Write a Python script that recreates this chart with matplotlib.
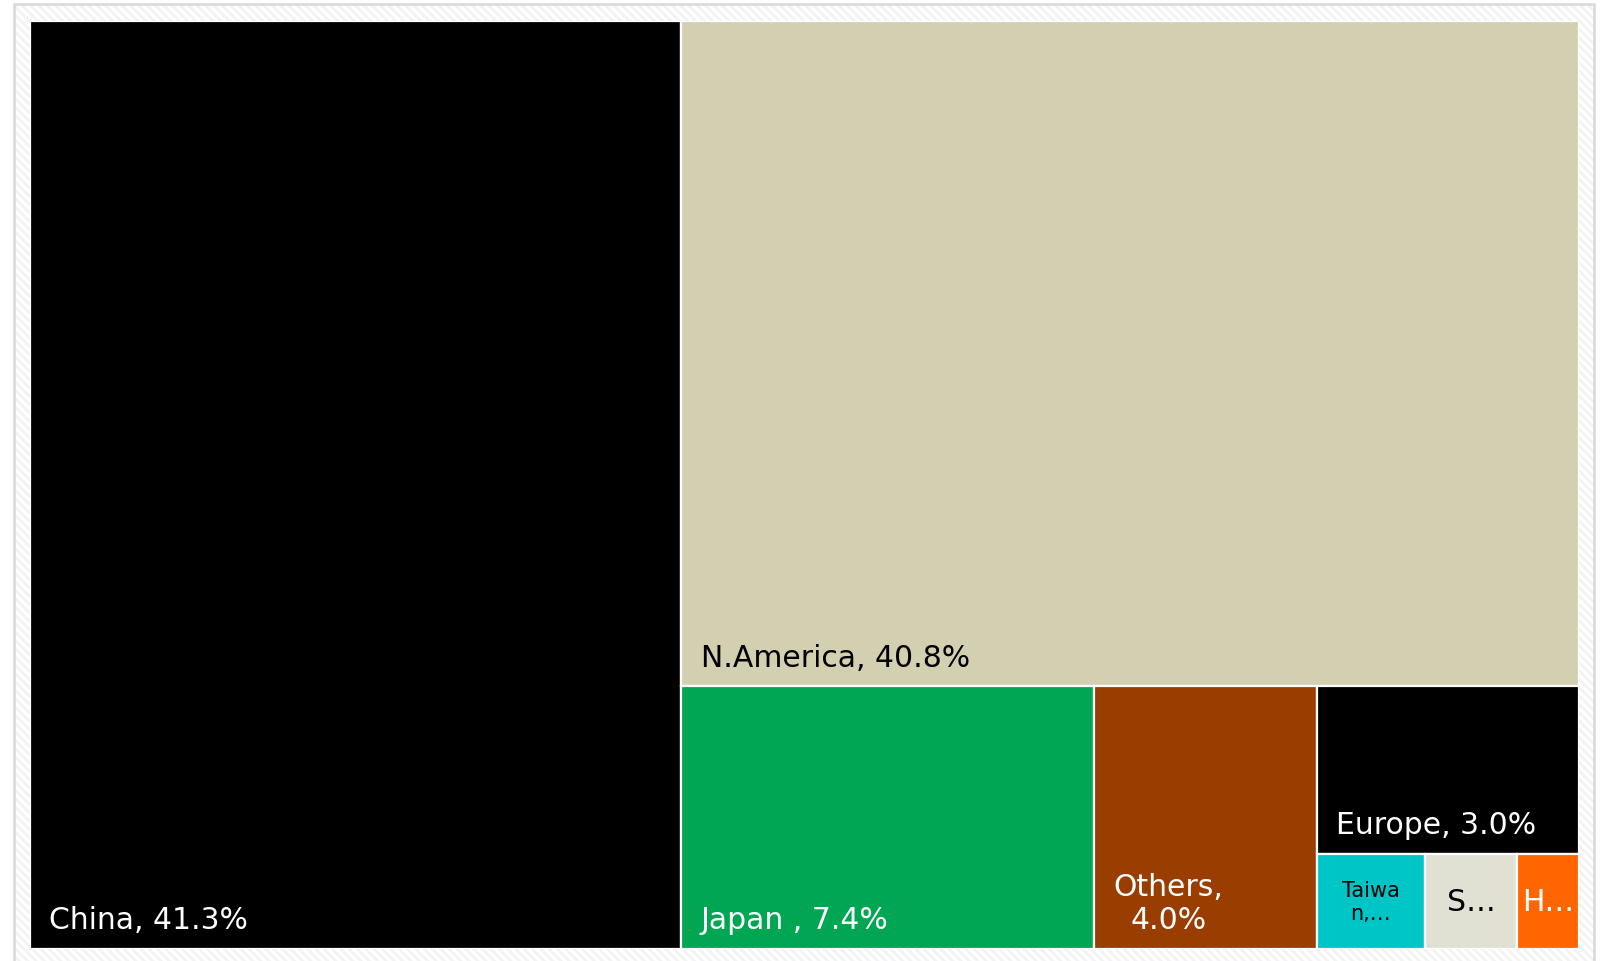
import matplotlib
matplotlib.use("Agg")
import matplotlib.pyplot as plt
from matplotlib.patches import Rectangle

plt.rcParams['font.family'] = ['DejaVu Sans']
plt.rcParams['hatch.linewidth'] = 2.0

# share of units by region (%)
regions = ["China", "N.America", "Japan", "Others", "Europe", "Taiwan", "S", "H"]
shares = [41.3, 40.8, 7.4, 4.0, 3.0, 0.7, 0.6, 0.4]
labels = ["China, 41.3%", "N.America, 40.8%", "Japan , 7.4%", "Others,\n4.0%",
          "Europe, 3.0%", "Taiwa\nn,\u2026", "S\u2026", "H\u2026"]

colors = ["#000000", "#D3CFB1", "#00A651", "#993D00",
          "#000000", "#00C5C6", "#E1E1D3", "#FF6600"]
text_colors = ["white", "black", "white", "white", "white", "black", "black", "white"]
font_sizes = {"Taiwan": 15}


def worst(row, side):
    s = sum(row)
    return max(max(side * side * r / (s * s), s * s / (side * side * r)) for r in row)


def squarify(areas, x, y, w, h):
    # squarified treemap, y grows downward
    rects = []
    i = 0
    while i < len(areas):
        side = min(w, h)
        row = [areas[i]]
        j = i + 1
        while j < len(areas) and worst(row + [areas[j]], side) <= worst(row, side):
            row.append(areas[j])
            j += 1
        s = sum(row)
        if w > h:
            t = s / h
            yy = y
            for a in row:
                rects.append((x, yy, t, a / t))
                yy += a / t
            x += t
            w -= t
        else:
            t = s / w
            xx = x
            for a in row:
                rects.append((xx, y, a / t, t))
                xx += a / t
            y += t
            h -= t
        i = j
    return rects


W, H = 1549.0, 928.0
total = sum(shares)
areas = [v / total * W * H for v in shares]
rects = squarify(areas, 0, 0, W, H)

fig = plt.figure(figsize=(16.01, 9.62), dpi=100)

# chart area: light diagonal pattern inside a grey frame
frame = (14 / 1601, -0.02)
fw, fh = 1580 / 1601, 1 - 5 / 962 + 0.02
fig.patches.append(Rectangle(frame, fw, fh, transform=fig.transFigure, facecolor="white",
                             edgecolor="#F3F3F3", hatch="\\\\\\\\", linewidth=0, zorder=0))
fig.patches.append(Rectangle(frame, fw, fh, transform=fig.transFigure, facecolor="none",
                             edgecolor="#D9D9D9", linewidth=1.8, zorder=1))

ax = fig.add_axes([30 / 1601, 12 / 962, 1549 / 1601, 928 / 962], zorder=5)
ax.set_xlim(0, W)
ax.set_ylim(H, 0)
ax.axis("off")

for name, lab, (x, y, w, h), c, tc in zip(regions, labels, rects, colors, text_colors):
    ax.add_patch(Rectangle((x, y), w, h, facecolor=c, edgecolor="white", linewidth=1.6))
    fs = font_sizes.get(name, 21.5)
    if h < 120:
        ax.text(x + w / 2, y + h / 2, lab, color=tc, fontsize=fs, ha="center",
                va="center", multialignment="center", clip_on=True)
    else:
        ax.annotate(lab, (x, y + h), xytext=(14, 15), textcoords="offset points",
                    color=tc, fontsize=fs, ha="left", va="baseline",
                    multialignment="center")

fig.savefig("out.png", dpi=100, facecolor="white")
